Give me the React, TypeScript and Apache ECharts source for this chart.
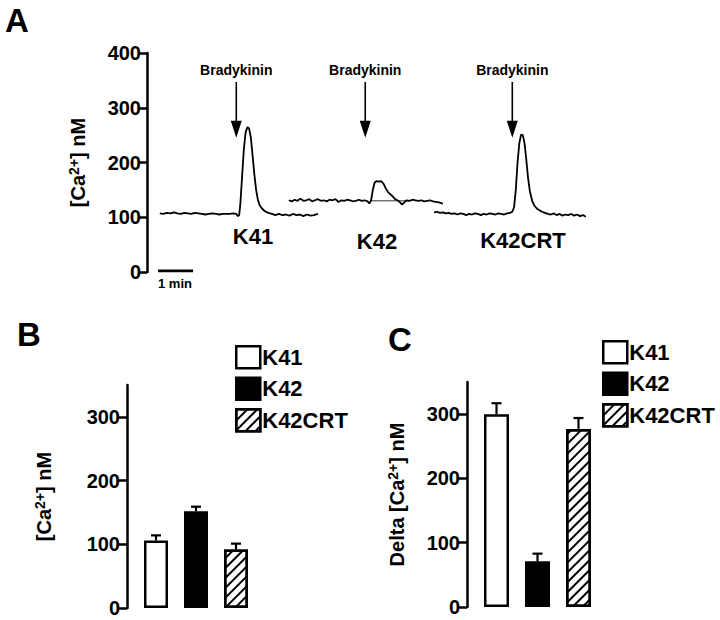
import React, { useEffect, useRef } from "react";
import * as echarts from "echarts";

const FONT = '"Liberation Sans", Arial, Helvetica, sans-serif';

// Panel A: [time (s), [Ca2+] nM] traces
const traceK41: [number, number][] = [
  [22, 107], [28, 106], [34, 108], [40, 107], [46, 109], [52, 107], [58, 106], [64, 108], [70, 107],
  [76, 106], [82, 108], [88, 107], [94, 106], [100, 105], [106, 106], [112, 107], [118, 106], [124, 105],
  [130, 106], [136, 106], [142, 106], [148, 107], [153, 106], [156, 102], [158, 104], [160, 125],
  [163, 175], [166, 225], [169, 255], [172, 265], [175, 262], [178, 245], [181, 212], [184, 178],
  [187, 150], [190, 132], [193, 122], [197, 116], [202, 111], [208, 108], [214, 106], [220, 104],
  [226, 106], [232, 104], [238, 105], [244, 103], [250, 106], [256, 104], [262, 105], [268, 102],
  [274, 105], [280, 103], [286, 104], [293, 106],
];
const traceK42: [number, number][] = [
  [243, 131], [248, 129], [253, 132], [258, 130], [263, 134], [268, 130], [273, 131], [278, 133],
  [283, 129], [288, 131], [293, 133], [298, 130], [303, 131], [308, 129], [313, 132], [318, 131],
  [323, 133], [328, 128], [333, 131], [338, 130], [343, 132], [348, 131], [353, 129], [358, 130],
  [363, 132], [368, 130], [373, 131], [378, 129], [381, 125], [384, 131], [387, 150], [390, 163],
  [393, 166], [397, 165], [401, 166], [405, 162], [409, 153], [413, 146], [417, 142], [421, 138],
  [425, 133], [429, 131], [433, 128], [437, 123], [441, 127], [445, 131], [450, 130], [455, 132],
  [460, 131], [465, 130], [470, 131], [475, 129], [480, 130], [485, 131], [490, 129], [495, 128],
  [500, 127], [507, 125],
];
const traceK42CRT: [number, number][] = [
  [492, 109], [497, 110], [502, 108], [507, 109], [512, 107], [517, 108], [522, 106], [527, 107],
  [532, 105], [537, 107], [542, 106], [547, 104], [552, 106], [557, 105], [562, 107], [567, 106],
  [572, 104], [577, 106], [582, 105], [587, 107], [592, 106], [597, 105], [602, 107], [607, 106],
  [612, 105], [617, 107], [622, 108], [626, 110], [629, 118], [632, 150], [635, 200], [638, 235],
  [641, 251], [644, 250], [647, 235], [650, 205], [653, 172], [656, 148], [660, 130], [664, 121],
  [668, 116], [672, 113], [677, 110], [682, 108], [687, 106], [692, 105], [697, 107], [702, 104],
  [707, 106], [712, 103], [717, 105], [722, 104], [727, 106], [732, 103], [737, 105], [742, 102],
  [747, 104], [752, 101],
];
const k42Reference: [number, number][] = [[384, 130], [449, 130]];
// stimulus: [time, arrow start value, arrow tip value]
const stimuli: [number, number, number][] = [[153, 347, 245], [374, 347, 245], [626, 347, 245]];
const scaleBar: [number, number][] = [[19, 2], [79, 2]];
const traceLabels = ["K41", "K42", "K42CRT"];

// Panels B and C
const categories = ["K41", "K42", "K42CRT"];
const restingMean = [106, 152, 92];
const restingErr = [8, 7, 9];
const deltaMean = [300, 71, 277];
const deltaErr = [17, 12, 17];
const barTicks = [0, 100, 200, 300];

const barStyles = [
  { color: "#ffffff", borderColor: "#000", borderWidth: 2.5 },
  { color: "#000000", borderColor: "#000", borderWidth: 2.5 },
  {
    color: "#ffffff",
    borderColor: "#000",
    borderWidth: 2.5,
    decal: {
      symbol: "rect",
      symbolSize: 1,
      dashArrayX: [1, 0],
      dashArrayY: [1.6, 4.2],
      rotation: -Math.PI / 4,
      color: "#000",
    },
  },
];

const axisTextStyle = { fontSize: 20, fontWeight: "bold", color: "#000", fontFamily: FONT };

function yName(prefix: string) {
  return prefix + "{a|[Ca}{s|2+}{a|] nM}";
}
const nameRich = {
  a: { fontSize: 20, fontWeight: "bold", fontFamily: FONT, color: "#000", lineHeight: 22 },
  s: { fontSize: 14, fontWeight: "bold", fontFamily: FONT, color: "#000", lineHeight: 14, verticalAlign: "top" },
};

export default function App() {
  const ref = useRef<HTMLDivElement>(null);
  useEffect(() => {
    if (!ref.current) return;
    const chart = echarts.init(ref.current, null, { renderer: "svg" });

    const barSeries = (gridIdx: number, means: number[], errs: number[], width: number) => {
      const s: any[] = categories.map((c, i) => ({
        type: "bar",
        name: c,
        xAxisIndex: gridIdx,
        yAxisIndex: gridIdx,
        barWidth: width,
        barGap: "-100%",
        data: categories.map((_, j) => (j === i ? means[i] : "-")),
        itemStyle: barStyles[i],
        emphasis: { disabled: true },
      }));
      s.push({
        type: "custom",
        xAxisIndex: gridIdx,
        yAxisIndex: gridIdx,
        data: categories.map((_, i) => [i, means[i], errs[i]]),
        renderItem: (_p: any, api: any) => {
          const i = api.value(0);
          const m = api.value(1);
          const e = api.value(2);
          const base = api.coord([i, m]);
          const top = api.coord([i, m + e]);
          return {
            type: "group",
            children: [
              { type: "line", shape: { x1: base[0], y1: base[1], x2: top[0], y2: top[1] }, style: { stroke: "#000", lineWidth: 2.2 } },
              { type: "line", shape: { x1: top[0] - 5, y1: top[1], x2: top[0] + 5, y2: top[1] }, style: { stroke: "#000", lineWidth: 2.2 } },
            ],
          };
        },
      });
      return s;
    };

    const traceLine = (data: [number, number][], width = 1.8) => ({
      type: "line",
      xAxisIndex: 0,
      yAxisIndex: 0,
      data,
      showSymbol: false,
      lineStyle: { color: "#000", width },
      silent: true,
    });

    const barYAxis = (gridIndex: number, name: string, nameGap: number) => ({
      type: "value",
      gridIndex,
      min: 0,
      max: 350,
      interval: 100,
      offset: 9,
      name,
      nameLocation: "middle",
      nameGap,
      nameRotate: 90,
      nameTextStyle: { rich: nameRich },
      axisLine: { show: true, lineStyle: { color: "#000", width: 2.5 } },
      axisTick: { show: true, length: 9, lineStyle: { color: "#000", width: 2.5 }, customValues: barTicks },
      axisLabel: { ...axisTextStyle, margin: 7, customValues: barTicks },
      splitLine: { show: false },
    });

    const legend = (left: number, top: number) => ({
      data: categories,
      orient: "vertical",
      left,
      top,
      padding: 0,
      itemWidth: 24,
      itemHeight: 22,
      itemGap: 7,
      icon: "rect",
      selectedMode: false,
      itemStyle: { borderColor: "#000", borderWidth: 2.5 },
      textStyle: { fontSize: 22, fontWeight: "bold", color: "#000", fontFamily: FONT, padding: [0, 0, 0, -3] },
    });

    const option: any = {
      animation: false,
      backgroundColor: "#fff",
      grid: [
        { left: 147, top: 53, width: 454, height: 219 },
        { left: 136, top: 385, width: 120, height: 223 },
        { left: 476, top: 382, width: 123, height: 225 },
      ],
      xAxis: [
        { type: "value", gridIndex: 0, min: 0, max: 778, show: false },
        { type: "category", gridIndex: 1, data: categories, show: false },
        { type: "category", gridIndex: 2, data: categories, show: false },
      ],
      yAxis: [
        {
          type: "value",
          gridIndex: 0,
          min: 0,
          max: 400,
          interval: 100,
          name: yName(""),
          nameLocation: "middle",
          nameGap: 58,
          nameRotate: 90,
          nameTextStyle: { rich: nameRich },
          axisLine: { show: true, lineStyle: { color: "#000", width: 2.5 } },
          axisTick: { show: true, length: 8, lineStyle: { color: "#000", width: 2.5 } },
          axisLabel: { ...axisTextStyle, margin: 6 },
          splitLine: { show: false },
        },
        barYAxis(1, yName(""), 72),
        barYAxis(2, yName("{a|Delta }"), 59),
      ],
      legend: [legend(235, 345), legend(602, 340)],
      series: [
        traceLine(traceK41),
        traceLine(traceK42),
        traceLine(traceK42CRT),
        traceLine(k42Reference, 0.8),
        traceLine(scaleBar, 2.8),
        {
          type: "custom",
          xAxisIndex: 0,
          yAxisIndex: 0,
          data: stimuli,
          silent: true,
          renderItem: (_p: any, api: any) => {
            const t = api.value(0);
            const top = api.coord([t, api.value(1)]);
            const tip = api.coord([t, api.value(2)]);
            const head = 17;
            return {
              type: "group",
              children: [
                { type: "line", shape: { x1: top[0], y1: top[1], x2: tip[0], y2: tip[1] - head + 2 }, style: { stroke: "#000", lineWidth: 1.6 } },
                {
                  type: "polygon",
                  shape: { points: [[tip[0] - 5.5, tip[1] - head], [tip[0] + 5.5, tip[1] - head], [tip[0], tip[1]]] },
                  style: { fill: "#000" },
                },
                {
                  type: "text",
                  x: top[0],
                  y: top[1] - 12,
                  style: { text: "Bradykinin", align: "center", verticalAlign: "middle", fontSize: 14, fontWeight: "bold", fontFamily: FONT, fill: "#000" },
                },
              ],
            };
          },
        },
        ...barSeries(1, restingMean, restingErr, 24),
        ...barSeries(2, deltaMean, deltaErr, 25),
      ],
      graphic: [
        { type: "text", left: 5, top: 4, style: { text: "A", fontSize: 33, fontWeight: "bold", fontFamily: FONT, fill: "#000" } },
        { type: "text", left: 17, top: 318, style: { text: "B", fontSize: 33, fontWeight: "bold", fontFamily: FONT, fill: "#000" } },
        { type: "text", left: 388, top: 323, style: { text: "C", fontSize: 33, fontWeight: "bold", fontFamily: FONT, fill: "#000" } },
        { type: "text", x: 175, y: 283, style: { text: "1 min", align: "center", verticalAlign: "middle", fontSize: 13, fontWeight: "bold", fontFamily: FONT, fill: "#000" } },
        { type: "text", x: 253, y: 236, style: { text: traceLabels[0], align: "center", verticalAlign: "middle", fontSize: 22, fontWeight: "bold", fontFamily: FONT, fill: "#000" } },
        { type: "text", x: 377, y: 241, style: { text: traceLabels[1], align: "center", verticalAlign: "middle", fontSize: 22, fontWeight: "bold", fontFamily: FONT, fill: "#000" } },
        { type: "text", x: 523, y: 240, style: { text: traceLabels[2], align: "center", verticalAlign: "middle", fontSize: 22, fontWeight: "bold", fontFamily: FONT, fill: "#000" } },
      ],
    };
    chart.setOption(option);
    return () => chart.dispose();
  }, []);
  return (
    <div
      ref={ref}
      style={{ position: "fixed", left: 0, top: 0, width: 720, height: 620, background: "#fff" }}
    />
  );
}
